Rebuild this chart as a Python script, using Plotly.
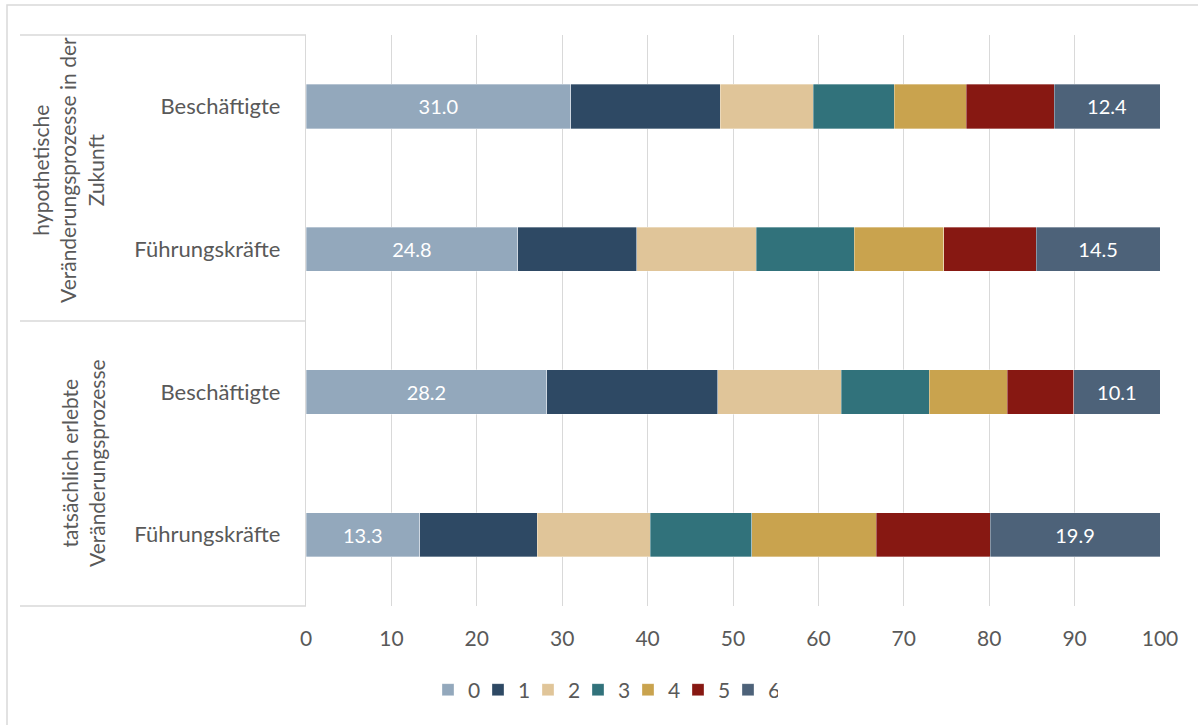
import plotly.graph_objects as go

# ---- data ----
groups = ["hypothetische<br>Veränderungsprozesse in der<br>Zukunft",
          "tatsächlich erlebte<br>Veränderungsprozesse"]
categories = ["Beschäftigte", "Führungskräfte", "Beschäftigte", "Führungskräfte"]
cat_keys = ["hyp_B", "hyp_F", "ist_B", "ist_F"]
series_names = ["0", "1", "2", "3", "4", "5", "6"]
values = {
    "0": [31.0, 24.8, 28.2, 13.3],
    "1": [17.5, 13.9, 20.0, 13.8],
    "2": [10.9, 14.0, 14.5, 13.2],
    "3": [9.5, 11.5, 10.3, 11.9],
    "4": [8.4, 10.5, 9.1, 14.6],
    "5": [10.3, 10.8, 7.8, 13.3],
    "6": [12.4, 14.5, 10.1, 19.9],
}
labelled = ["0", "6"]
x_ticks = list(range(0, 101, 10))

colors = {
    "0": "#93a8bc",
    "1": "#2e4964",
    "2": "#e0c599",
    "3": "#31727b",
    "4": "#c9a34e",
    "5": "#871812",
    "6": "#4d6279",
}

FONT = "Lato, Open Sans, sans-serif"
GRAY = "#595959"
LINE = "#d9d9d9"

fig = go.Figure()
for s in series_names:
    show = s in labelled
    fig.add_trace(go.Bar(
        name=s,
        y=cat_keys,
        x=values[s],
        orientation="h",
        marker=dict(color=colors[s], line=dict(color="rgba(255,255,255,0.55)", width=0.6)),
        text=[f"{v:.1f}" for v in values[s]] if show else None,
        textposition="inside" if show else "none",
        insidetextanchor="middle",
        textfont=dict(color="white", size=20, family=FONT),
        hoverinfo="x+name",
    ))

# plot area in px: x 306..1160, y 35..606
L, R, T, B = 306, 38, 35, 119
W, H = 1198, 725
pw, ph = W - L - R, H - T - B

def px_x(px):
    return (px - L) / pw

def px_y(py):
    return (H - B - py) / ph

shapes = []
# divider lines for group axis
for py in [35, 321, 606]:
    shapes.append(dict(type="line", xref="paper", yref="paper",
                       x0=px_x(20), x1=px_x(306), y0=px_y(py), y1=px_y(py),
                       line=dict(color=LINE, width=1.3)))
# outer chart frame
shapes.append(dict(type="rect", xref="paper", yref="paper",
                   x0=px_x(7), x1=px_x(1250), y0=px_y(780), y1=px_y(5),
                   line=dict(color=LINE, width=1.5), fillcolor="rgba(0,0,0,0)", layer="below"))

annotations = [
    dict(text=groups[0], xref="paper", yref="paper", x=px_x(68), y=px_y(170),
         textangle=-90, showarrow=False, font=dict(size=21, color=GRAY, family=FONT),
         xanchor="center", yanchor="middle", align="center"),
    dict(text=groups[1], xref="paper", yref="paper", x=px_x(83), y=px_y(463),
         textangle=-90, showarrow=False, font=dict(size=21, color=GRAY, family=FONT),
         xanchor="center", yanchor="middle", align="center"),
]

fig.update_layout(
    barmode="stack",
    bargap=0.69,
    width=W, height=H,
    margin=dict(l=L, r=R, t=T, b=B, autoexpand=False),
    paper_bgcolor="white",
    plot_bgcolor="white",
    font=dict(family=FONT, size=20, color=GRAY),
    shapes=shapes,
    annotations=annotations,
    legend=dict(orientation="h", x=px_x(428), y=px_y(690), xanchor="left", yanchor="middle",
                font=dict(size=21, color=GRAY, family=FONT), entrywidth=5, entrywidthmode="pixels",
                traceorder="normal"),
    xaxis=dict(range=[0, 100], tickvals=x_ticks, ticktext=[str(t) for t in x_ticks],
               showgrid=True, gridcolor=LINE, gridwidth=1.3, zeroline=False, showline=False,
               ticks="", ticklabelstandoff=18, tickfont=dict(size=21, color=GRAY, family=FONT),
               fixedrange=True),
    yaxis=dict(categoryorder="array", categoryarray=cat_keys, autorange="reversed",
               tickvals=cat_keys, ticktext=categories, showline=True, linecolor=LINE, linewidth=1.3,
               showgrid=False, ticks="", ticklabelstandoff=20,
               tickfont=dict(size=22, color=GRAY, family=FONT), fixedrange=True),
)

fig.write_html("out.html", config={"displayModeBar": False},
               post_script="document.body.style.margin='0';")
